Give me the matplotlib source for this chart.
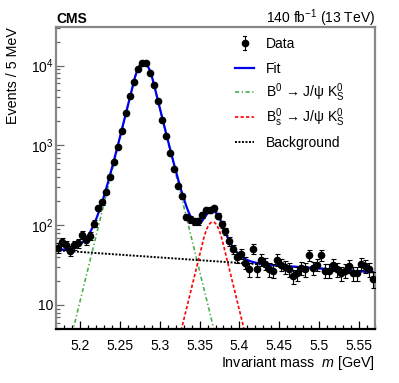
import numpy as np
import matplotlib
matplotlib.use("Agg")
import matplotlib.pyplot as plt
from matplotlib.ticker import MultipleLocator, FuncFormatter, LogLocator, NullFormatter

plt.rcParams['font.family'] = ['Liberation Sans', 'DejaVu Sans']
plt.rcParams['mathtext.fontset'] = 'custom'
plt.rcParams['mathtext.rm'] = 'Liberation Sans'
plt.rcParams['mathtext.it'] = 'Liberation Sans:italic'
plt.rcParams['mathtext.bf'] = 'Liberation Sans:bold'

# binning: 5 MeV bins from 5.17 to 5.57 GeV
mass_lo, mass_hi, bin_width = 5.17, 5.57, 0.005
bin_centers = np.arange(mass_lo + bin_width / 2, mass_hi, bin_width)

# events per bin
events = [52, 62, 56, 48, 56, 60, 76, 65, 73, 105,
          162, 193, 262, 404, 624, 946, 1530, 2570, 4170, 6300,
          9090, 10700, 10700, 8160, 5680, 3570, 2080, 1310, 809, 506,
          310, 231, 127, 119, 112, 112, 133, 154, 154, 162,
          131, 103, 84, 63, 50, 40, 44, 34, 28, 51,
          28, 37, 33, 28, 27, 37, 32, 30, 28, 23,
          25, 29, 28, 42, 29, 32, 42, 27, 27, 32,
          28, 25, 27, 31, 25, 25, 33, 31, 28, 21]

# fit components (peak heights per bin, means, core width, tail parameter)
b0_peak, b0_mean = 10900, 5.2797
bs_peak, bs_mean = 110, 5.3665
core_sigma, tail_k = 0.0116, 1.09
bkg_at_lo, bkg_slope = 48.5, 1.59


def gauss_exp(x, peak, mean):
    # gaussian core with exponential tails
    u = np.abs(x - mean) / core_sigma
    arg = np.where(u < tail_k, 0.5 * u**2, tail_k * u - 0.5 * tail_k**2)
    return peak * np.exp(-arg)


m = np.linspace(mass_lo, mass_hi, 1200)
b0_curve = gauss_exp(m, b0_peak, b0_mean)
bs_curve = gauss_exp(m, bs_peak, bs_mean)
bkg_curve = bkg_at_lo * np.exp(-bkg_slope * (m - mass_lo))
fit_curve = b0_curve + bs_curve + bkg_curve

GREEN = '#4cae4c'
GREEN_LS = (0, (2.5, 1.5, 0.8, 1.5))
RED_LS = (0, (2, 1.3))
BKG_LS = (0, (1, 0.8))

fig = plt.figure(figsize=(3.99, 3.83), dpi=100)
ax = fig.add_axes([0.1404, 0.141, 0.7995, 0.7885])

ax.plot(m, b0_curve, color=GREEN, lw=1.2, ls=GREEN_LS)
ax.plot(m, bs_curve, color='red', lw=1.2, ls=RED_LS)
ax.plot(m, bkg_curve, color='black', lw=1.4, ls=BKG_LS)
ax.plot(m, fit_curve, color='#0000ee', lw=1.6)

ev = np.array(events, dtype=float)
ax.errorbar(bin_centers, ev, yerr=np.sqrt(ev), fmt='o', color='black',
            ms=4.5, elinewidth=0.8, capsize=1.8, capthick=0.8, zorder=5)

ax.set_yscale('log')
ax.set_xlim(mass_lo, mass_hi)
ax.set_ylim(5, 3.05e4)

ax.xaxis.set_major_locator(MultipleLocator(0.05))
ax.xaxis.set_minor_locator(MultipleLocator(0.01))
ax.xaxis.set_major_formatter(FuncFormatter(lambda v, p: f'{v:g}'))
ax.yaxis.set_major_locator(LogLocator(base=10))
ax.yaxis.set_minor_locator(LogLocator(base=10, subs=np.arange(2, 10)))
ax.yaxis.set_minor_formatter(NullFormatter())


def log_fmt(v, pos):
    e = int(round(np.log10(v)))
    return '10' if e == 1 else rf'$10^{{{e}}}$'


ax.yaxis.set_major_formatter(FuncFormatter(log_fmt))
ax.tick_params(which='both', direction='in', top=False, right=False, labelsize=10, width=0.9)
ax.tick_params(which='major', length=6)
ax.tick_params(which='minor', length=3)
ax.tick_params(axis='x', pad=7)
ax.tick_params(axis='y', pad=2)

for side in ['left', 'top', 'right']:
    ax.spines[side].set_color('#888888')
    ax.spines[side].set_linewidth(1.6)
ax.spines['bottom'].set_linewidth(1.6)
ax.tick_params(axis='y', which='both', color='#666666')

ax.text(0, 1.013, 'CMS', transform=ax.transAxes, fontsize=10, fontweight='bold',
        ha='left', va='baseline')
ax.text(1, 1.013, r'140 fb$^{-1}$ (13 TeV)', transform=ax.transAxes, fontsize=10,
        ha='right', va='baseline')
ax.text(-0.135, 1.0, 'Events / 5 MeV', transform=ax.transAxes, fontsize=10.3,
        rotation=90, ha='center', va='top')
ax.text(1, -0.125, r'Invariant mass  $m$ [GeV]', transform=ax.transAxes, fontsize=10.3,
        ha='right', va='baseline')

# legend drawn by hand, ROOT style
hx0, hx1, tx = 0.561, 0.621, 0.658
rows = [0.947, 0.864, 0.785, 0.702, 0.619]
labels = ['Data', 'Fit', r'B$^0$ → J/ψ K$^0_\mathrm{S}$',
          r'B$^0_\mathrm{s}$ → J/ψ K$^0_\mathrm{S}$', 'Background']
hc = 0.5 * (hx0 + hx1)
tr = ax.transAxes
ax.plot([hc, hc], [rows[0] - 0.022, rows[0] + 0.022], color='black', lw=0.8, transform=tr)
ax.plot([hc], [rows[0]], 'o', color='black', ms=4.5, transform=tr)
for yy in (rows[0] - 0.022, rows[0] + 0.022):
    ax.plot([hc - 0.006, hc + 0.006], [yy, yy], color='black', lw=0.8, transform=tr)
ax.plot([hx0, hx1], [rows[1]] * 2, color='#0000ee', lw=1.6, transform=tr)
ax.plot([hx0, hx1], [rows[2]] * 2, color=GREEN, lw=1.2, ls=GREEN_LS, transform=tr)
ax.plot([hx0, hx1], [rows[3]] * 2, color='red', lw=1.2, ls=RED_LS, transform=tr)
ax.plot([hx0, hx1], [rows[4]] * 2, color='black', lw=1.4, ls=BKG_LS, transform=tr)
for yy, lab in zip(rows, labels):
    ax.text(tx, yy - 0.016, lab, transform=tr, fontsize=10, ha='left', va='baseline')

fig.savefig('out.png', dpi=100)
